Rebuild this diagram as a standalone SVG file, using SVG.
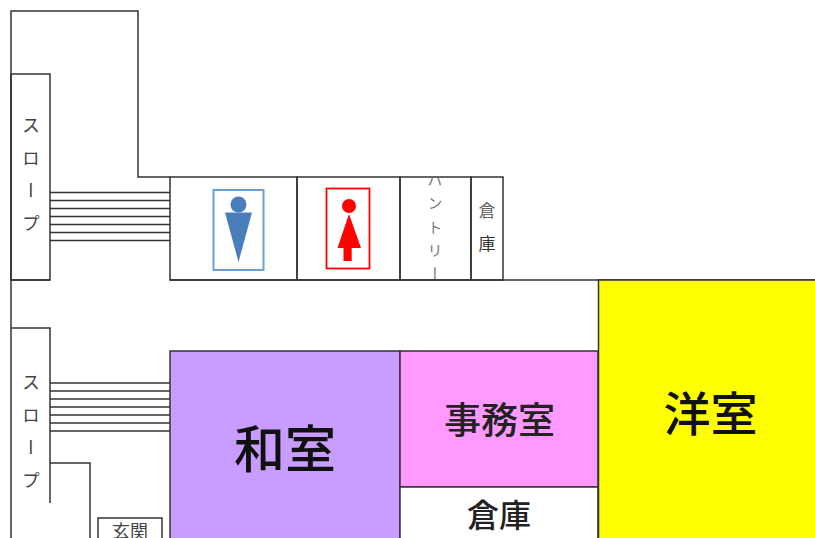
<svg xmlns="http://www.w3.org/2000/svg" width="815" height="538" viewBox="0 0 815 538">
<style>
.w{fill:none;stroke:#333;stroke-width:1.5}
.r{stroke:#333;stroke-width:1.5}
text{font-family:"Noto Sans CJK JP","Noto Sans",sans-serif;text-anchor:middle;fill:#111}
.s{font-size:18px;fill:#444;writing-mode:vertical-rl}
.p{font-size:15px;fill:#777;writing-mode:vertical-rl}
.b{font-weight:500}
</style>
<defs><clipPath id="pc"><rect x="401" y="178" width="70" height="102"/></clipPath><clipPath id="gc"><rect x="99" y="519" width="62" height="19"/></clipPath></defs>
<rect width="815" height="538" fill="#fff"/>
<g id="connectors" class="w">
<path d="M11 538V11H138V177H170"/>
<path d="M11 280H50M170 280H815"/>
<path d="M50 192.500H170M50 200.500H170M50 208.500H170M50 216.500H170M50 224.500H170M50 232.500H170M50 240.500H170"/>
<path d="M50 383H170M50 391H170M50 399H170M50 407H170M50 415H170M50 423H170M50 431H170"/>
</g>
<g id="slope-upper"><rect class="w" x="11" y="74" width="39" height="206"/><text class="s" x="31" y="125">ス</text><text class="s" x="31" y="158">ロ</text><text class="s" x="31" y="190">ー</text><text class="s" x="31" y="223">プ</text></g>
<g id="slope-lower"><path class="w" d="M11 328H50V503M50 463H90V538"/><text class="s" x="31" y="382">ス</text><text class="s" x="31" y="415">ロ</text><text class="s" x="31" y="447">ー</text><text class="s" x="31" y="480">プ</text></g>
<g id="mens"><rect class="w" x="170" y="177" width="127" height="103"/><rect x="213.500" y="190" width="50" height="80" fill="#fff" stroke="#6c9fd8" stroke-width="2"/><circle cx="238.500" cy="204.500" r="8" fill="#4a7ebb"/><path d="M225 212.500H252L238.500 262Z" fill="#4a7ebb"/></g>
<g id="womens"><rect class="w" x="297" y="177" width="103" height="103"/><rect x="326.500" y="188.500" width="43" height="80" fill="#fff" stroke="#f00" stroke-width="1.800"/><circle cx="349" cy="206" r="7" fill="#f00"/><path d="M349 214L361 248H351.700V261H343.500V248H337.500Z" fill="#f00"/></g>
<g id="pantry"><rect class="w" x="400" y="177" width="71" height="103"/><g clip-path="url(#pc)"><text class="p" x="435" y="179">パ</text><text class="p" x="435" y="203">ン</text><text class="p" x="435" y="227">ト</text><text class="p" x="435" y="250">リ</text><text class="p" x="435" y="273">ー</text></g></g>
<g id="storage-small"><rect class="w" x="471" y="177" width="32" height="103"/><text x="487" y="217" font-size="17" style="fill:#666">倉</text><text x="487" y="250" font-size="17" style="fill:#333">庫</text></g>
<g id="washitsu"><rect class="r" x="170" y="351" width="230" height="190" fill="#c99cff"/><text class="b" x="285" y="468" font-size="51">和室</text></g>
<g id="office"><rect class="r" x="400" y="351" width="198" height="136" fill="#ff99ff"/><text class="b" x="499.500" y="434" font-size="37" style="fill:#222">事務室</text></g>
<g id="storage"><rect class="r" x="400" y="487" width="198" height="54" fill="#fff"/><text class="b" x="499" y="527" font-size="32" style="fill:#222">倉庫</text></g>
<g id="yoshitsu"><rect class="r" x="598.500" y="280" width="220" height="261" fill="#ff0"/><text class="b" x="710.500" y="431" font-size="47">洋室</text></g>
<g id="genkan"><rect class="w" x="98" y="518" width="64" height="24"/><g clip-path="url(#gc)"><text x="130" y="538" font-size="18" style="fill:#444">玄関</text></g></g>
</svg>
